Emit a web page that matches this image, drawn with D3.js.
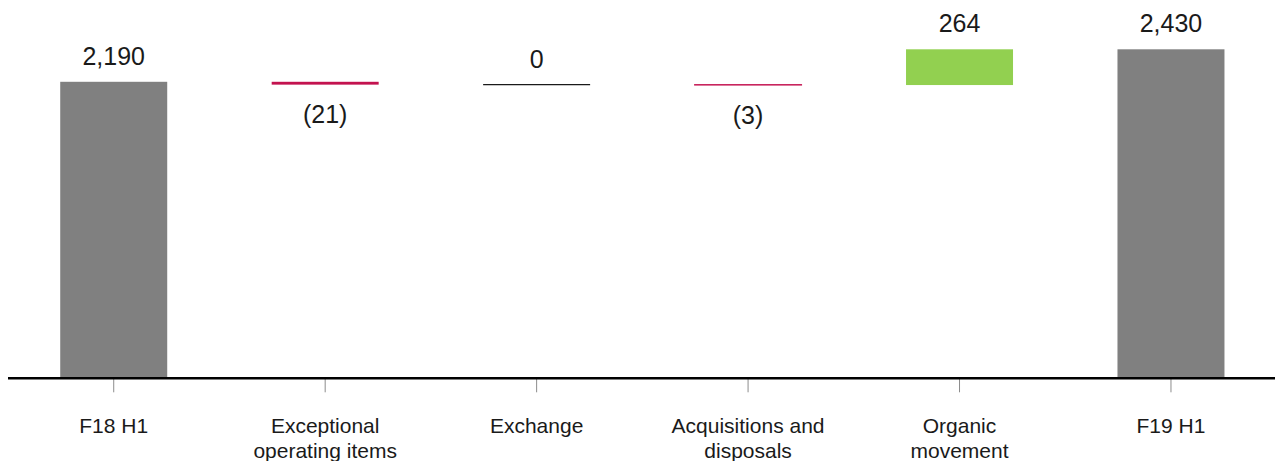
<!DOCTYPE html>
<html>
<head>
<meta charset="utf-8">
<script src="https://cdn.jsdelivr.net/npm/d3@7/dist/d3.min.js"></script>
<style>
  html, body { margin: 0; padding: 0; background: #fff; }
  svg { display: block; }
  text { font-family: "Liberation Sans", Arial, sans-serif; fill: #1a1a1a; }
</style>
</head>
<body>
<svg id="chart" width="1275" height="461"></svg>
<script>
// Bridge from F18 H1 to F19 H1
const categories = ["F18 H1", "Exceptional operating items", "Exchange", "Acquisitions and disposals", "Organic movement", "F19 H1"];
const categoryLines = [["F18 H1"], ["Exceptional", "operating items"], ["Exchange"], ["Acquisitions and", "disposals"], ["Organic", "movement"], ["F19 H1"]];
const values = [2190, -21, 0, -3, 264, 2430];
const kinds = ["total", "delta", "delta", "delta", "delta", "total"];
const valueLabels = ["2,190", "(21)", "0", "(3)", "264", "2,430"];

const colors = { total: "#808080", up: "#92d050", down: "#c3124f", zero: "#1a1a1a" };

const svg = d3.select("#chart");
const baseY = 378.3;

const x = d3.scaleBand()
  .domain(categories)
  .range([8, 1276.7])
  .paddingInner(0.494)
  .paddingOuter(0.247);

const y = d3.scaleLinear()
  .domain([0, 2430])
  .range([baseY, 49.3]);

// Running totals give each step its start and end
let running = 0;
const steps = categories.map((c, i) => {
  let start, end;
  if (kinds[i] === "total") {
    start = 0; end = values[i]; running = values[i];
  } else {
    start = running; end = running + values[i]; running = end;
  }
  return { cat: c, value: values[i], kind: kinds[i], start, end, label: valueLabels[i], lines: categoryLines[i] };
});

function fillOf(d) {
  if (d.kind === "total") return colors.total;
  if (d.value > 0) return colors.up;
  if (d.value < 0) return colors.down;
  return colors.zero;
}

const g = svg.append("g");

// Bars and steps (non-zero values)
g.selectAll("rect.step")
  .data(steps.filter(d => d.value !== 0))
  .join("rect")
  .attr("class", "step")
  .attr("x", d => x(d.cat))
  .attr("width", x.bandwidth())
  .attr("y", d => y(Math.max(d.start, d.end)))
  .attr("height", d => Math.abs(y(d.start) - y(d.end)))
  .attr("fill", fillOf)
  .attr("stroke", d => (d.kind === "delta" && Math.abs(y(d.start) - y(d.end)) < 1.5) ? fillOf(d) : "none")
  .attr("stroke-width", 1);

// Zero-change steps drawn as a flat line
g.selectAll("line.zero")
  .data(steps.filter(d => d.value === 0))
  .join("line")
  .attr("class", "zero")
  .attr("x1", d => x(d.cat))
  .attr("x2", d => x(d.cat) + x.bandwidth())
  .attr("y1", d => y(d.end))
  .attr("y2", d => y(d.end))
  .attr("stroke", colors.zero)
  .attr("stroke-width", 1.2);

// Value labels: above for totals and increases, below for decreases
g.selectAll("text.val")
  .data(steps)
  .join("text")
  .attr("class", "val")
  .attr("x", d => x(d.cat) + x.bandwidth() / 2)
  .attr("y", d => {
    const top = y(Math.max(d.start, d.end));
    const bottom = y(Math.min(d.start, d.end));
    return (d.kind === "delta" && d.value < 0) ? bottom + 38.5 : top - 17;
  })
  .attr("text-anchor", "middle")
  .style("font-size", "25px")
  .text(d => d.label);

// Category axis
const axis = d3.axisBottom(x).tickSize(14).tickSizeOuter(0).tickFormat("");
const ax = svg.append("g").attr("transform", `translate(0,${baseY})`).call(axis);
ax.select(".domain").remove();
ax.selectAll(".tick line").attr("stroke", "#8c8c8c").attr("stroke-width", 1);

svg.append("line")
  .attr("x1", 8).attr("x2", 1275)
  .attr("y1", baseY).attr("y2", baseY)
  .attr("stroke", "#000").attr("stroke-width", 2.5);

// Category labels, wrapped to the lines given
const labels = svg.append("g").selectAll("text.cat")
  .data(steps)
  .join("text")
  .attr("class", "cat")
  .attr("text-anchor", "middle")
  .style("font-size", "21px")
  .attr("x", d => x(d.cat) + x.bandwidth() / 2)
  .attr("y", 433);

labels.selectAll("tspan")
  .data(d => d.lines.map(t => ({ t, cx: x(d.cat) + x.bandwidth() / 2 })))
  .join("tspan")
  .attr("x", d => d.cx)
  .attr("dy", (d, i) => i === 0 ? 0 : 24.5)
  .text(d => d.t);
</script>
</body>
</html>
